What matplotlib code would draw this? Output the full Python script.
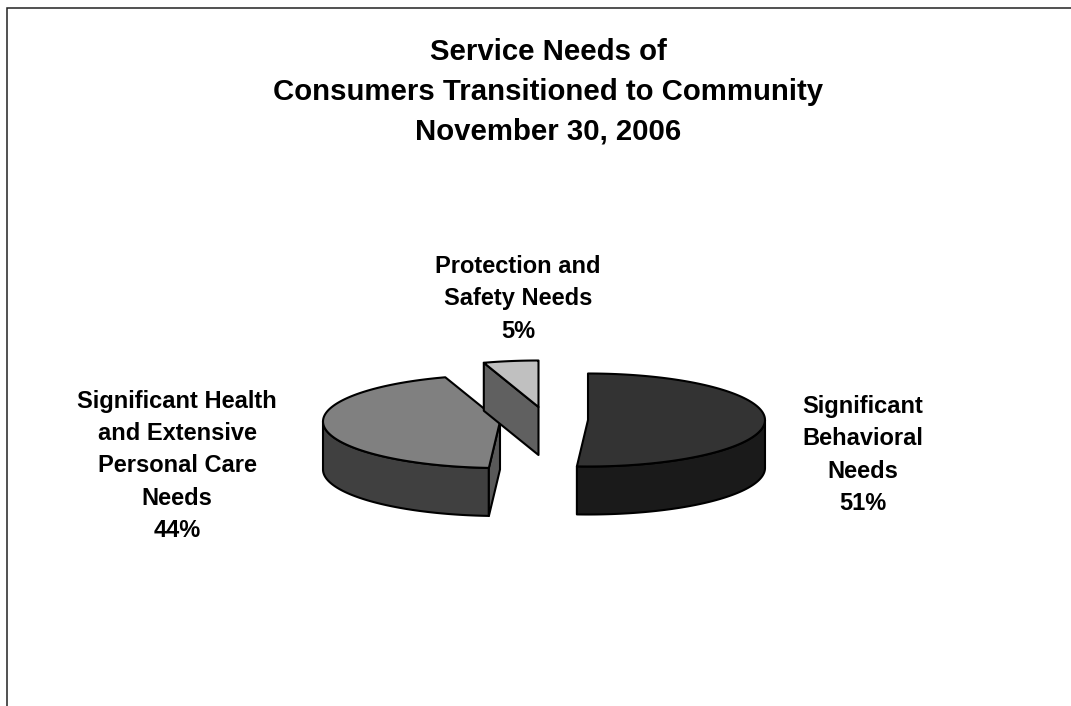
import numpy as np
import matplotlib
matplotlib.use("Agg")
import matplotlib.pyplot as plt
from matplotlib.patches import Polygon

plt.rcParams['font.family'] = ['Liberation Sans', 'DejaVu Sans']

title_lines = ["Service Needs of", "Consumers Transitioned to Community", "November 30, 2006"]
categories = ["Significant\nBehavioral\nNeeds", "Significant Health\nand Extensive\nPersonal Care\nNeeds", "Protection and\nSafety Needs"]
shares = [51, 44, 5]
top_colors = ["#333333", "#808080", "#c0c0c0"]
wall_colors = ["#1a1a1a", "#404040", "#606060"]
cut_colors = [None, "#595959", None]

W, H = 1071, 706
fig = plt.figure(figsize=(W / 100, H / 100), dpi=100, facecolor="white")
ax = fig.add_axes([0, 0, 1, 1])
ax.set_xlim(0, W)
ax.set_ylim(H, 0)
ax.axis("off")

# Chart-area frame: only the top and left edges fall inside the canvas
ax.plot([7, 7, W + 5], [H + 5, 7.5, 7.5], color="#222222", lw=1.1, solid_joinstyle="miter")

RX, RY, DEPTH = 177, 46.5, 48
LW = 1.5
# Exploded apex of each slice
apexes = [(588, 420), (500, 421.5), (538.5, 407)]


def rim(apex, deg, drop=0.0):
    """Project pie angles (clockwise from 12 o'clock) on to the tilted ellipse."""
    t = np.radians(deg)
    return np.column_stack([apex[0] + RX * np.sin(t), apex[1] - RY * np.cos(t) + drop])


def face(points, color):
    ax.add_patch(Polygon(points, closed=True, facecolor=color, edgecolor="black",
                         lw=LW, joinstyle="round"))


edges = np.concatenate([[0], np.cumsum(shares)]) * 3.6

for i, share in enumerate(shares):
    start, end = edges[i], edges[i + 1]
    apex = apexes[i]
    arc = np.linspace(start, end, 120)

    # Outer wall, limited to the part of the rim that faces the viewer
    lo, hi = max(start, 90), min(end, 270)
    if lo < hi:
        front = np.linspace(lo, hi, 100)
        face(np.vstack([rim(apex, front), rim(apex, front[::-1], DEPTH)]), wall_colors[i])

    # Cut face on the trailing side of the slice
    if cut_colors[i]:
        p = rim(apex, [start])[0]
        face([p, apex, (apex[0], apex[1] + DEPTH), (p[0], p[1] + DEPTH)], cut_colors[i])

    # Side wall visible on the small exploded slice
    if share == min(shares):
        p = rim(apex, [start])[0]
        face([p, apex, (apex[0], apex[1] + DEPTH), (p[0], p[1] + DEPTH)], wall_colors[i])

    face(np.vstack([[apex], rim(apex, arc)]), top_colors[i])

ax.text(548, 92, "\n".join(title_lines), ha="center", va="center", fontsize=21.2,
        fontweight="bold", color="black", linespacing=1.54)

label_style = dict(ha="center", va="center", fontsize=17, fontweight="bold",
                   color="black", linespacing=1.52)
label_anchors = [(863, 455), (177, 466), (518, 299)]
for name, share, (x, y) in zip(categories, shares, label_anchors):
    ax.text(x, y, f"{name}\n{share}%", **label_style)

fig.savefig("out.png", dpi=100, facecolor="white")
